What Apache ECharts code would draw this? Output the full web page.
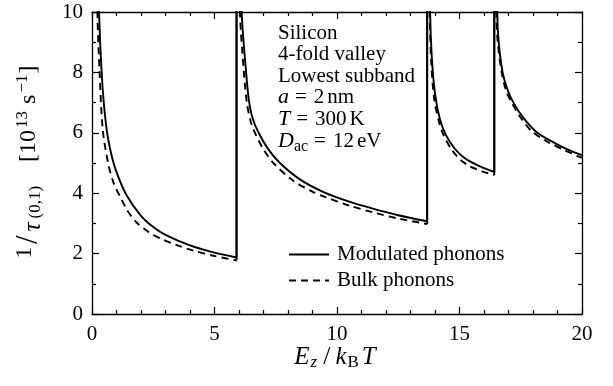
<!DOCTYPE html>
<html>
<head>
<meta charset="utf-8">
<script src="https://cdn.jsdelivr.net/npm/echarts@6/dist/echarts.min.js"></script>
<style>html,body{margin:0;padding:0;background:#fff}#c{width:613px;height:386px}</style>
</head>
<body>
<div id="c"></div>
<script>
// x = E_z/k_B T, y = 1/tau (10^13 s^-1); one array per subband-threshold segment.
// First point of each segment lies off-scale (> 10) at the divergence and is clipped.
const modSeg1 = [[0.2,14],[0.29,10],[0.35,8.7],[0.45,7.3],[0.6,6.1],[0.8,5.25],[1.0,4.7],[1.4,3.95],[2.0,3.25],[2.5,2.88],[3.0,2.62],[4.0,2.27],[5.0,2.03],[5.9,1.87]];
const modSeg2 = [[5.96,16],[6.11,10],[6.29,8],[6.4,7.1],[6.55,6.5],[6.8,6.0],[7.2,5.45],[7.67,5.0],[8.5,4.45],[9.5,4.02],[10.5,3.72],[11.5,3.48],[12.5,3.27],[13.68,3.07]];
const modSeg3 = [[13.72,16],[13.8,10],[13.87,8.5],[14.0,7.3],[14.2,6.45],[14.45,5.92],[14.8,5.48],[15.15,5.2],[15.5,5.02],[15.95,4.85],[16.42,4.71]];
const modSeg4 = [[16.47,16],[16.54,10],[16.6,9],[16.76,8],[16.95,7.45],[17.2,7.0],[17.6,6.5],[18.15,6.02],[18.8,5.7],[19.4,5.45],[20,5.26]];
const bulkSeg1 = [[0.16,14],[0.22,10],[0.31,8],[0.44,6.1],[0.67,4.95],[0.9,4.3],[1.14,3.9],[1.45,3.42],[1.82,3.03],[2.3,2.72],[2.84,2.48],[3.5,2.27],[4.13,2.1],[5.0,1.92],[5.9,1.77]];
const bulkSeg2 = [[5.94,16],[6.04,10],[6.2,8],[6.32,7.0],[6.47,6.4],[6.65,6.0],[7.0,5.45],[7.4,5.0],[8.2,4.42],[9.0,4.05],[9.5,3.88],[10.5,3.59],[11.5,3.36],[12.5,3.16],[13.68,2.98]];
const bulkSeg3 = [[13.71,16],[13.78,10],[13.85,8.3],[13.97,7.1],[14.15,6.4],[14.35,5.92],[14.7,5.42],[15.05,5.1],[15.4,4.9],[15.9,4.73],[16.42,4.6]];
const bulkSeg4 = [[16.45,16],[16.5,10],[16.56,9],[16.72,8],[16.9,7.4],[17.13,7.0],[17.5,6.5],[17.95,6.05],[18.6,5.7],[19.3,5.42],[20,5.17]];
const jumpX = [5.9, 13.68, 16.42];
const seriesNames = ['Modulated phonons','Bulk phonons'];
const notes = ['Silicon','4-fold valley','Lowest subband'];

const FONT = '"Liberation Serif","DejaVu Serif",serif';
const chart = echarts.init(document.getElementById('c'));
const tickStyle = {color:'#000',width:1.2};
function axisCommon(minorSplit){
  return {
    axisLine:{show:true,onZero:false,lineStyle:{color:'#000',width:1.3}},
    axisTick:{show:true,inside:true,length:7,lineStyle:tickStyle},
    minorTick:{show:true,splitNumber:minorSplit,length:4,lineStyle:tickStyle},
    splitLine:{show:false}
  };
}
const rich = {
  n:{fontFamily:FONT,fontSize:21,fill:'#000'},
  i:{fontFamily:FONT,fontSize:22,fontStyle:'italic',fill:'#000'},
  eq:{fontFamily:FONT,fontSize:21,fill:'#000',padding:[0,7,0,6]},
  sp:{fontFamily:FONT,fontSize:21,fill:'#000',padding:[0,0,0,3]},
  sub:{fontFamily:FONT,fontSize:16,fill:'#000',padding:[10,0,0,0]},
  // axis titles
  N:{fontFamily:FONT,fontSize:24,fill:'#000'},
  I:{fontFamily:FONT,fontSize:25,fontStyle:'italic',fill:'#000'},
  one:{fontFamily:FONT,fontSize:23,fill:'#000',padding:[0,1,9,0]},
  sl:{fontFamily:FONT,fontSize:31,fill:'#000',padding:[0,2,0,2]},
  tau:{fontFamily:FONT,fontSize:25,fontStyle:'italic',fill:'#000',padding:[8,2,0,2]},
  S:{fontFamily:FONT,fontSize:17,fill:'#000',padding:[14,0,0,2]},
  Si:{fontFamily:FONT,fontSize:17,fontStyle:'italic',fill:'#000',padding:[11,1,0,1]},
  Sb:{fontFamily:FONT,fontSize:17,fill:'#000',padding:[11,3,0,1]},
  P:{fontFamily:FONT,fontSize:17,fill:'#000',padding:[0,1,12,1]},
  Ps:{fontFamily:FONT,fontSize:17,fill:'#000',padding:[0,1,12,2]},
  br:{fontFamily:FONT,fontSize:24,fill:'#000',padding:[0,1,0,24]},
  s:{fontFamily:FONT,fontSize:24,fill:'#000',padding:[0,0,0,6]},
  x:{fontFamily:FONT,fontSize:26,fill:'#000',padding:[0,5,0,5]}
};
function txt(x,y,text,align,rot){
  const g = {type:'text',x:x,y:y,z:100,style:{text:text,rich:rich,font:'21px '+FONT,fill:'#000',align:align||'left',verticalAlign:'middle'}};
  if(rot) g.rotation = rot;
  return g;
}
const graphics = [];
const noteY = [33,54.7,76.3];
notes.forEach((t,k)=>graphics.push(txt(278,noteY[k],'{n|'+t+'}')));
graphics.push(txt(278,97.3,'{i|a}{eq|=}{n|2}{sp|nm}'));
graphics.push(txt(278,119.7,'{i|T}{eq|=}{n|300}{sp|K}'));
graphics.push(txt(278,141.3,'{i|D}{sub|ac}{eq|=}{n|12}{sp|eV}'));
graphics.push(txt(335,357,'{I|E}{Si|z}{x|/}{I|k}{Sb|B}{I|T}','center'));
graphics.push(txt(29,162,'{one|1}{sl|/}{tau|τ}{S|(0,1)}{br|[10}{P|13}{s|s}{Ps|−1}{N|]}','center',Math.PI/2));

const series = [];
[[modSeg1,modSeg2,modSeg3,modSeg4],[bulkSeg1,bulkSeg2,bulkSeg3,bulkSeg4]].forEach((segs,si)=>{
  const ls = {color:'#000',width:1.9,type: si===0 ? 'solid' : [7,5]};
  segs.forEach(seg=>series.push({name:seriesNames[si],type:'line',data:seg,symbol:'none',clip:true,
    smooth:0.3,lineStyle:ls,itemStyle:{color:'#000'},z: si===0?3:2}));
  // vertical rise at each new subband threshold
  jumpX.forEach((x,k)=>series.push({name:seriesNames[si],type:'line',symbol:'none',clip:true,
    data:[[x,segs[k][segs[k].length-1][1]],[x,11]],lineStyle:{color:'#000',width:1.9,type:'solid'},itemStyle:{color:'#000'},z:si===0?3:2}));
});

chart.setOption({
  animation:false,
  backgroundColor:'#fff',
  grid:{left:92,right:31,top:12,bottom:72},
  legend:{
    data:seriesNames, orient:'vertical', left:288, top:244, padding:0, itemWidth:40, itemHeight:14, itemGap:5,
    itemStyle:{opacity:0},
    textStyle:{fontFamily:FONT,fontSize:21,color:'#000',padding:[0,0,0,3]}
  },
  xAxis:[
    Object.assign({type:'value',min:0,max:20,interval:5,position:'bottom',
      axisLabel:{color:'#000',fontFamily:FONT,fontSize:21,margin:10}},axisCommon(5)),
    Object.assign({type:'value',min:0,max:20,interval:5,position:'top',axisLabel:{show:false}},axisCommon(5))
  ],
  yAxis:[
    Object.assign({type:'value',min:0,max:10,interval:2,position:'left',
      axisLabel:{color:'#000',fontFamily:FONT,fontSize:21,margin:9}},axisCommon(2)),
    Object.assign({type:'value',min:0,max:10,interval:2,position:'right',axisLabel:{show:false}},axisCommon(2))
  ],
  graphic:graphics,
  series:series
});
</script>
</body>
</html>
